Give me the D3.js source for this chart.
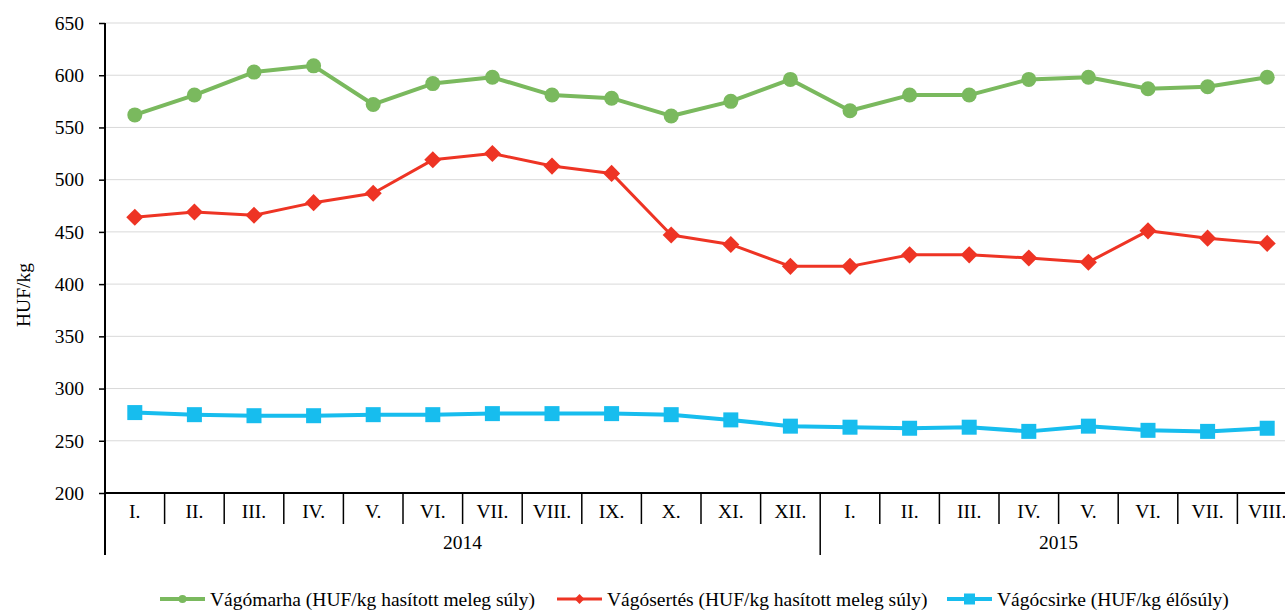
<!DOCTYPE html>
<html>
<head>
<meta charset="utf-8">
<script src="https://cdn.jsdelivr.net/npm/d3@7/dist/d3.min.js"></script>
<style>
  html, body { margin: 0; padding: 0; background: #fff; overflow: hidden; }
</style>
</head>
<body>
<div id="chart"></div>
<script>
// months, two years
const months = ['I.', 'II.', 'III.', 'IV.', 'V.', 'VI.', 'VII.', 'VIII.', 'IX.', 'X.', 'XI.', 'XII.',
  'I.', 'II.', 'III.', 'IV.', 'V.', 'VI.', 'VII.', 'VIII.'];
const years = [{label: '2014', count: 12}, {label: '2015', count: 8}];
const yTicks = [200, 250, 300, 350, 400, 450, 500, 550, 600, 650];

const cattle = [562, 581, 603, 609, 572, 592, 598, 581, 578, 561, 575, 596,
  566, 581, 581, 596, 598, 587, 589, 598];
const pig = [464, 469, 466, 478, 487, 519, 525, 513, 506, 447, 438, 417,
  417, 428, 428, 425, 421, 451, 444, 439];
const chicken = [277, 275, 274, 274, 275, 275, 276, 276, 276, 275, 270, 264,
  263, 262, 263, 259, 264, 260, 259, 262];

const seriesNames = ['Vágómarha (HUF/kg hasított meleg súly)',
  'Vágósertés (HUF/kg hasított meleg súly)',
  'Vágócsirke (HUF/kg élősúly)'];

const FONT = '"Liberation Serif", "Times New Roman", serif';
const width = 1285, height = 610;
const margin = {left: 105, top: 23};
const plotW = 1192, plotH = 470;

const series = [
  {name: seriesNames[0], values: cattle, color: '#7ab95e', lineWidth: 4, shape: 'circle', legendX: 160},
  {name: seriesNames[1], values: pig, color: '#ee3424', lineWidth: 3, shape: 'diamond', legendX: 557},
  {name: seriesNames[2], values: chicken, color: '#17bdee', lineWidth: 4, shape: 'square', legendX: 947}
];

const svg = d3.select('#chart').append('svg')
  .attr('width', width)
  .attr('height', height)
  .attr('font-family', FONT);

const g = svg.append('g').attr('transform', `translate(${margin.left},${margin.top})`);

const x = d3.scaleBand()
  .domain(d3.range(months.length))
  .range([0, plotW]);

const y = d3.scaleLinear()
  .domain([200, 650])
  .range([plotH, 0]);

// gridlines
g.append('g')
  .selectAll('line')
  .data(yTicks.slice(1))
  .enter()
  .append('line')
  .attr('x1', 0)
  .attr('x2', plotW)
  .attr('y1', d => y(d))
  .attr('y2', d => y(d))
  .attr('stroke', '#d9d9d9')
  .attr('stroke-width', 1);

// y axis
const yAxis = g.append('g')
  .call(d3.axisLeft(y).tickValues(yTicks).tickSize(6).tickPadding(15))
  .attr('font-family', FONT)
  .attr('font-size', 19.5);
yAxis.select('.domain').remove();
yAxis.selectAll('line').attr('stroke', '#000').attr('stroke-width', 1.5);
yAxis.selectAll('text').attr('fill', '#000');

g.append('line')
  .attr('x1', 0).attr('x2', 0)
  .attr('y1', 0).attr('y2', plotH + 62)
  .attr('stroke', '#000').attr('stroke-width', 2);

// x axis line
g.append('line')
  .attr('x1', 0).attr('x2', plotW)
  .attr('y1', plotH).attr('y2', plotH)
  .attr('stroke', '#000').attr('stroke-width', 2);

// month separators and labels
const xAxis = g.append('g').attr('transform', `translate(0,${plotH})`);
xAxis.selectAll('line')
  .data(d3.range(1, months.length + 1))
  .enter()
  .append('line')
  .attr('x1', d => x(d - 1) + x.bandwidth())
  .attr('x2', d => x(d - 1) + x.bandwidth())
  .attr('y1', 0)
  .attr('y2', d => d === 12 ? 62 : 31)
  .attr('stroke', '#000')
  .attr('stroke-width', 1.5);

xAxis.selectAll('text.month')
  .data(months)
  .enter()
  .append('text')
  .attr('class', 'month')
  .attr('x', (d, i) => x(i) + x.bandwidth() / 2)
  .attr('y', 25)
  .attr('text-anchor', 'middle')
  .attr('font-size', 19.5)
  .text(d => d);

// year labels
let start = 0;
years.forEach(yr => {
  const x0 = x(start);
  const x1 = x(start + yr.count - 1) + x.bandwidth();
  xAxis.append('text')
    .attr('x', (x0 + x1) / 2)
    .attr('y', 56)
    .attr('text-anchor', 'middle')
    .attr('font-size', 19.5)
    .text(yr.label);
  start += yr.count;
});

// y axis title
svg.append('text')
  .attr('transform', `translate(30,295) rotate(-90)`)
  .attr('text-anchor', 'middle')
  .attr('font-size', 19.5)
  .text('HUF/kg');

const line = d3.line()
  .x((d, i) => x(i) + x.bandwidth() / 2)
  .y(d => y(d));

function drawMarker(sel, shape, size, color) {
  if (shape === 'circle') {
    sel.append('circle').attr('r', size / 2).attr('fill', color);
  } else if (shape === 'diamond') {
    sel.append('path')
      .attr('d', d3.symbol().type(d3.symbolDiamond2).size(size * size * 0.95)())
      .attr('fill', color);
  } else {
    sel.append('rect')
      .attr('x', -size / 2).attr('y', -size / 2)
      .attr('width', size).attr('height', size)
      .attr('fill', color);
  }
}

series.forEach(s => {
  g.append('path')
    .datum(s.values)
    .attr('d', line)
    .attr('fill', 'none')
    .attr('stroke', s.color)
    .attr('stroke-width', s.lineWidth)
    .attr('stroke-linejoin', 'round');

  g.append('g')
    .selectAll('g')
    .data(s.values)
    .enter()
    .append('g')
    .attr('transform', (d, i) => `translate(${x(i) + x.bandwidth() / 2},${y(d)})`)
    .each(function () {
      drawMarker(d3.select(this), s.shape, s.shape === 'diamond' ? 14 : 15, s.color);
    });
});

// legend
const legend = svg.append('g').attr('transform', 'translate(0,599)');
series.forEach(s => {
  const item = legend.append('g').attr('transform', `translate(${s.legendX},0)`);
  item.append('line')
    .attr('x1', 0).attr('x2', 45)
    .attr('y1', 0).attr('y2', 0)
    .attr('stroke', s.color)
    .attr('stroke-width', s.lineWidth);
  const m = item.append('g').attr('transform', 'translate(22.5,0)');
  drawMarker(m, s.shape, s.shape === 'square' ? 11 : 8, s.color);
  item.append('text')
    .attr('x', 50)
    .attr('y', 6.5)
    .attr('font-size', 19.5)
    .text(s.name);
});
</script>
</body>
</html>
